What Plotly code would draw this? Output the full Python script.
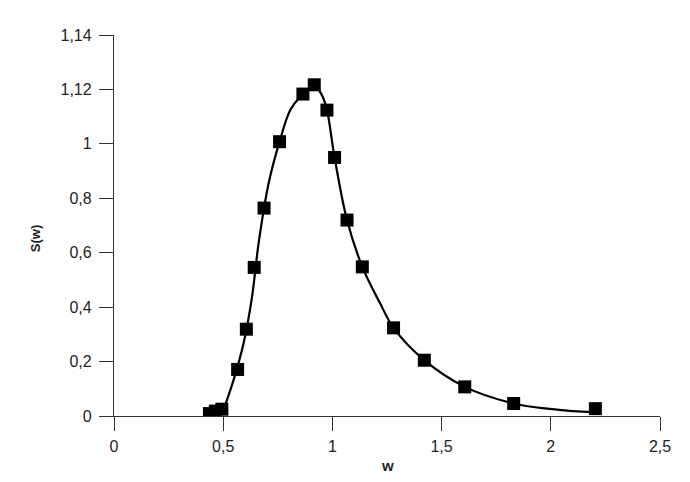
import plotly.graph_objects as go

# measured points
w_pts = [0.437, 0.464, 0.494, 0.566, 0.606, 0.642, 0.687, 0.758, 0.865, 0.917,
         0.975, 1.010, 1.067, 1.137, 1.280, 1.421, 1.606, 1.830, 2.204]
s_pts = [0.009, 0.018, 0.025, 0.171, 0.319, 0.546, 0.764, 1.008, 1.183, 1.217,
         1.124, 0.950, 0.720, 0.548, 0.324, 0.205, 0.107, 0.046, 0.027]

# fitted curve
w_fit = [0.502, 0.547, 0.593, 0.632, 0.662, 0.708, 0.758, 0.807, 0.853, 0.917,
         0.952, 0.975, 1.010, 1.067, 1.137, 1.219, 1.280, 1.421, 1.606, 1.830,
         1.983, 2.166, 2.200]
s_fit = [0.024, 0.131, 0.266, 0.438, 0.634, 0.855, 1.008, 1.124, 1.173, 1.213,
         1.179, 1.124, 0.950, 0.720, 0.548, 0.413, 0.324, 0.205, 0.107, 0.046,
         0.027, 0.015, 0.015]

x_tickvals = [0, 0.5, 1, 1.5, 2, 2.5]
x_ticktext = ["0", "0,5", "1", "1,5", "2", "2,5"]
y_tickvals = [0, 0.2, 0.4, 0.6, 0.8, 1.0, 1.2, 1.4]
y_ticktext = ["0", "0,2", "0,4", "0,6", "0,8", "1", "1,12", "1,14"]

fig = go.Figure()
fig.add_trace(go.Scatter(x=w_fit, y=s_fit, mode="lines",
                         line=dict(color="black", width=2.2, shape="spline", smoothing=1.0),
                         showlegend=False, hoverinfo="skip"))
fig.add_trace(go.Scatter(x=w_pts, y=s_pts, mode="markers",
                         marker=dict(symbol="square", size=13, color="black"),
                         showlegend=False))

axis_common = dict(showgrid=False, zeroline=False, showline=True, linecolor="#333",
                   linewidth=1.3, ticks="outside", ticklen=14, tickwidth=1.3,
                   tickcolor="#333", tickfont=dict(family="Liberation Sans, Arial", size=16, color="#222"))

fig.update_xaxes(range=[0, 2.5], tickvals=x_tickvals, ticktext=x_ticktext,
                 ticklabelstandoff=2, **axis_common)
fig.update_yaxes(range=[0, 1.4], tickvals=y_tickvals, ticktext=y_ticktext,
                 ticklabelstandoff=4, **axis_common)

fig.update_layout(
    width=682, height=474,
    margin=dict(l=106, r=30, t=27, b=66),
    plot_bgcolor="white", paper_bgcolor="white",
    annotations=[
        dict(text="<b>w</b>", xref="paper", yref="paper", x=0.5, y=-0.13,
             xanchor="center", yanchor="middle", showarrow=False,
             font=dict(family="Liberation Sans, Arial", size=15, color="#222")),
        dict(text="<b>S(w)</b>", xref="paper", yref="paper", x=-0.144, y=0.465,
             xanchor="center", yanchor="middle", showarrow=False, textangle=-90,
             font=dict(family="Liberation Sans, Arial", size=13, color="#222")),
    ],
)

fig.write_html("out.html")
